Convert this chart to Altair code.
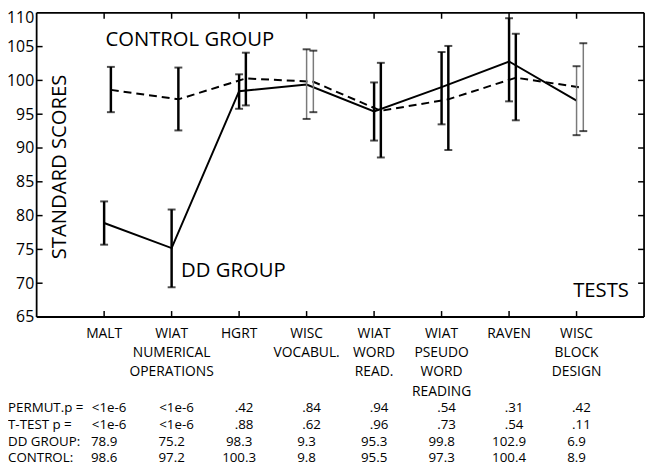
import altair as alt
import pandas as pd

# ---------------- data ----------------
positions = [1, 2, 3, 4, 5, 6, 7, 8]
test_labels = ["MALT", "WIAT|NUMERICAL|OPERATIONS", "HGRT", "WISC|VOCABUL.",
               "WIAT|WORD|READ.", "WIAT|PSEUDO|WORD|READING", "RAVEN", "WISC|BLOCK|DESIGN"]
thin_bar = [False, False, False, True, False, False, False, True]

dd_mean = [78.9, 75.2, 98.4, 99.4, 95.4, 99.0, 102.8, 97.0]
dd_low = [75.7, 69.4, 95.8, 94.3, 91.1, 93.5, 96.9, 91.9]
dd_high = [82.1, 80.9, 100.9, 104.6, 99.7, 104.2, 109.2, 102.1]

ctrl_mean = [98.6, 97.2, 100.3, 99.8, 95.5, 97.2, 100.4, 98.9]
ctrl_low = [95.3, 92.6, 96.3, 95.3, 88.6, 89.7, 94.1, 92.5]
ctrl_high = [102.0, 101.9, 104.1, 104.4, 102.6, 105.1, 106.9, 105.5]

x_domain = [0, 9]
y_domain = [65, 110]
y_ticks = [65, 70, 75, 80, 85, 90, 95, 100, 105, 110]
inner_y_ticks = [70, 75, 80, 85, 90, 95, 100, 105]

row_headers = ["PERMUT.p =", "T-TEST p =", "DD GROUP:", "CONTROL:"]
permut_p = ["<1e-6", "<1e-6", ".42", ".84", ".94", ".54", ".31", ".42"]
ttest_p = ["<1e-6", "<1e-6", ".88", ".62", ".96", ".73", ".54", ".11"]
dd_table = ["78.9", "75.2", "98.3", "9.3", "95.3", "99.8", "102.9", "6.9"]
ctrl_table = ["98.6", "97.2", "100.3", "9.8", "95.5", "97.3", "100.4", "8.9"]

annotations = ["CONTROL GROUP", "DD GROUP", "TESTS"]
ann_x = [1.02, 2.14, 7.95]
ann_y = [106.0, 71.8, 68.9]
ytitle = "STANDARD SCORES"
ytitle_x = [0.34]
ytitle_y = [87.2]

# ---------------- styling ----------------
FONT = "Open Sans"
CTRL_SHIFT = 0.1
TICK_Y = 0.88
TICK_X = 0.088

xs = alt.Scale(domain=x_domain, nice=False, zero=False)
ys = alt.Scale(domain=y_domain, nice=False, zero=False)
yaxis = alt.Axis(values=y_ticks, ticks=False, domain=False, grid=False, title=None,
                 labelFontSize=16, labelFont=FONT, labelColor="black", labelPadding=3,
                 labelOffset={"condition": {"test": "datum.value == 110", "value": 5}, "value": 0})


def X(f):
    return alt.X(f, type="quantitative", scale=xs, axis=None)


def Y(f):
    return alt.Y(f, type="quantitative", scale=ys, axis=yaxis)


bars = pd.DataFrame({
    "x": positions + [p + CTRL_SHIFT for p in positions],
    "mean": dd_mean + ctrl_mean,
    "low": dd_low + ctrl_low,
    "high": dd_high + ctrl_high,
    "thin": thin_bar + thin_bar,
    "group": ["DD"] * 8 + ["CONTROL"] * 8,
})

layers = []

# lines
layers.append(alt.Chart(bars[bars.group == "DD"]).mark_line(color="black", strokeWidth=2)
              .encode(x=X("x"), y=Y("mean")))
layers.append(alt.Chart(bars[bars.group == "CONTROL"]).mark_line(color="black", strokeWidth=2,
                                                                 strokeDash=[8, 5])
              .encode(x=X("x"), y=Y("mean")))

# error bars
layers.append(alt.Chart(bars).mark_rule().encode(
    x=X("x"), y=Y("low"), y2="high",
    color=alt.condition("datum.thin", alt.value("#7a7a7a"), alt.value("black")),
    strokeWidth=alt.condition("datum.thin", alt.value(1.5), alt.value(2.5)),
))
for f in ["low", "high"]:
    layers.append(alt.Chart(bars).mark_tick(orient="horizontal", size=8, thickness=2, color="black")
                  .encode(x=X("x"), y=Y(f)))

# frame (box)
fr_h = pd.DataFrame({"y": y_domain, "x0": [x_domain[0]] * 2, "x1": [x_domain[1]] * 2})
fr_v = pd.DataFrame({"x": x_domain, "y0": [y_domain[0]] * 2, "y1": [y_domain[1]] * 2})
layers.append(alt.Chart(fr_h).mark_rule(color="black", strokeWidth=1.8)
              .encode(y=Y("y"), x=X("x0"), x2="x1"))
layers.append(alt.Chart(fr_v).mark_rule(color="black", strokeWidth=1.8)
              .encode(x=X("x"), y=Y("y0"), y2="y1"))

# inside ticks (box style)
tb = pd.DataFrame({"x": positions})
tb["b0"] = y_domain[0]
tb["b1"] = y_domain[0] + TICK_Y
tb["t0"] = y_domain[1]
tb["t1"] = y_domain[1] - TICK_Y
layers.append(alt.Chart(tb).mark_rule(color="black", strokeWidth=1.5)
              .encode(x=X("x"), y=Y("b0"), y2="b1"))
layers.append(alt.Chart(tb).mark_rule(color="black", strokeWidth=1.5)
              .encode(x=X("x"), y=Y("t0"), y2="t1"))
tl = pd.DataFrame({"y": inner_y_ticks})
tl["l0"] = x_domain[0]
tl["l1"] = x_domain[0] + TICK_X
tl["r0"] = x_domain[1]
tl["r1"] = x_domain[1] - TICK_X
layers.append(alt.Chart(tl).mark_rule(color="black", strokeWidth=1.5)
              .encode(y=Y("y"), x=X("l0"), x2="l1"))
layers.append(alt.Chart(tl).mark_rule(color="black", strokeWidth=1.5)
              .encode(y=Y("y"), x=X("r0"), x2="r1"))

# category labels
lab = pd.DataFrame({"x": positions, "t": test_labels})
layers.append(alt.Chart(lab).mark_text(align="center", baseline="top", lineBreak="|",
                                       lineHeight=19.5, fontSize=14, font=FONT, color="black")
              .encode(x=X("x"), y=alt.value(318), text="t"))

# table rows
rows = [(permut_p, 400, 5), (ttest_p, 417.5, 5), (dd_table, 434.5, 0), (ctrl_table, 451, 0)]
for (vals, ypix, dx), header in zip(rows, row_headers):
    d = pd.DataFrame({"x": positions, "t": vals})
    layers.append(alt.Chart(d).mark_text(align="center", baseline="middle", fontSize=13.5,
                                         font=FONT, color="black", dx=dx)
                  .encode(x=X("x"), y=alt.value(ypix), text="t"))
    h = pd.DataFrame({"t": [header]})
    layers.append(alt.Chart(h).mark_text(align="left", baseline="middle", fontSize=13.5,
                                         font=FONT, color="black")
                  .encode(x=alt.value(-29), y=alt.value(ypix), text="t"))

# annotations
ann = pd.DataFrame({"t": annotations, "x": ann_x, "y": ann_y})
layers.append(alt.Chart(ann).mark_text(align="left", baseline="middle", fontSize=20.5,
                                       font=FONT, color="black")
              .encode(x=X("x"), y=Y("y"), text="t"))
yt = pd.DataFrame({"t": [ytitle], "x": ytitle_x, "y": ytitle_y})
layers.append(alt.Chart(yt).mark_text(align="center", baseline="middle", fontSize=20.5,
                                      font=FONT, color="black", angle=270)
              .encode(x=X("x"), y=Y("y"), text="t"))

chart = alt.layer(*layers).properties(
    width=615, height=308,
    autosize=alt.AutoSizeParams(type="none"),
    padding={"left": 29, "top": 2, "right": 4, "bottom": 149},
).configure(font=FONT, view=alt.ViewConfig(stroke=None))

chart.save("out.html", embed_options={"renderer": "svg", "actions": False})
